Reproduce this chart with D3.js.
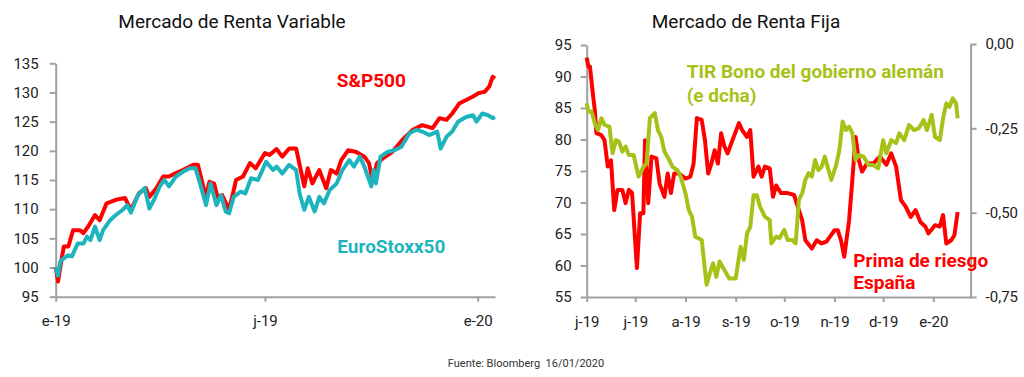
<!DOCTYPE html>
<html>
<head>
<meta charset="utf-8">
<script src="https://cdn.jsdelivr.net/npm/d3@7"></script>
<style>
  body { margin: 0; background: #fff; }
  svg text { font-family: Roboto, "Open Sans", sans-serif; }
</style>
</head>
<body>
<div id="chart-area"></div>
<script>
// Mercado de Renta Variable: indices rebased to 100 (e-19)
const sp500 = [
  ['2019-01-01',100],['2019-01-03',97.6],['2019-01-06',101.3],['2019-01-08',103.6],['2019-01-12',103.6],
  ['2019-01-16',106.4],['2019-01-22',106.4],['2019-01-25',105.9],['2019-01-29',107],['2019-02-04',109],
  ['2019-02-08',108.1],['2019-02-14',111],['2019-02-22',111.6],['2019-03-02',111.9],['2019-03-07',109.9],
  ['2019-03-14',112.7],['2019-03-20',113.6],['2019-03-23',112.1],['2019-03-29',113.6],['2019-04-04',115.6],
  ['2019-04-09',115.6],['2019-04-14',116.1],['2019-04-21',116.7],['2019-04-30',117.6],['2019-05-04',117.6],
  ['2019-05-08',114.4],['2019-05-11',112.1],['2019-05-14',114.7],['2019-05-18',114.4],['2019-05-21',112.1],
  ['2019-05-25',112.4],['2019-05-31',109.9],['2019-06-03',112.4],['2019-06-06',115],['2019-06-12',115.6],
  ['2019-06-18',117.9],['2019-06-23',117],['2019-07-01',119.6],['2019-07-05',119.3],['2019-07-11',120.3],
  ['2019-07-16',119],['2019-07-22',120.4],['2019-07-28',120.4],['2019-08-01',116.7],['2019-08-04',113.9],
  ['2019-08-07',117],['2019-08-11',114.4],['2019-08-17',116.7],['2019-08-23',113.6],['2019-08-27',116.7],
  ['2019-09-01',116.1],['2019-09-05',118.4],['2019-09-11',120.1],['2019-09-18',119.8],['2019-09-25',119],
  ['2019-09-29',117.9],['2019-10-02',115],['2019-10-06',117.9],['2019-10-11',118.7],['2019-10-19',119.8],
  ['2019-10-28',121.9],['2019-11-06',123.6],['2019-11-14',124.4],['2019-11-23',123.9],['2019-11-29',125.6],
  ['2019-12-05',125.3],['2019-12-10',126.4],['2019-12-16',128.1],['2019-12-22',128.7],['2019-12-28',129.3],
  ['2020-01-02',129.9],['2020-01-07',130.1],['2020-01-11',131],['2020-01-14',132.7],['2020-01-16',132.4]
];

const euroStoxx50 = [
  ['2019-01-01',100],['2019-01-03',98.6],['2019-01-05',101],['2019-01-08',101.6],['2019-01-12',102.1],
  ['2019-01-15',101.9],['2019-01-20',104.1],['2019-01-25',104.1],['2019-01-28',105.3],['2019-01-31',104.7],
  ['2019-02-04',107],['2019-02-08',104.7],['2019-02-11',106.4],['2019-02-17',108.1],['2019-02-22',109],
  ['2019-02-28',109.9],['2019-03-04',110.7],['2019-03-07',109.4],['2019-03-13',112.4],['2019-03-19',113.6],
  ['2019-03-23',110.1],['2019-03-27',111.6],['2019-04-01',113.9],['2019-04-05',115],['2019-04-09',113.9],
  ['2019-04-15',115.6],['2019-04-21',116.4],['2019-04-27',117],['2019-05-02',117],['2019-05-07',113.6],
  ['2019-05-11',110.7],['2019-05-15',114.4],['2019-05-20',110.7],['2019-05-24',112.4],['2019-05-28',109.6],
  ['2019-05-31',109.3],['2019-06-04',112.1],['2019-06-10',113],['2019-06-14',112.7],['2019-06-19',115.3],
  ['2019-06-25',115],['2019-07-02',118.1],['2019-07-08',116.7],['2019-07-11',117.3],['2019-07-16',116.1],
  ['2019-07-22',117.6],['2019-07-28',116.7],['2019-07-31',112.7],['2019-08-04',109.9],['2019-08-08',112.1],
  ['2019-08-13',109.6],['2019-08-17',112.1],['2019-08-21',111],['2019-08-26',113.3],['2019-09-01',114.4],
  ['2019-09-06',116.7],['2019-09-12',118.4],['2019-09-16',117.3],['2019-09-21',119],['2019-09-25',117.3],
  ['2019-10-01',113.9],['2019-10-03',116.7],['2019-10-05',114.4],['2019-10-09',119],['2019-10-15',119.8],
  ['2019-10-21',120.1],['2019-10-27',120.7],['2019-11-03',123],['2019-11-09',123.6],['2019-11-14',123.3],
  ['2019-11-20',122.7],['2019-11-27',123.3],['2019-11-30',120.4],['2019-12-05',122.4],['2019-12-10',123.3],
  ['2019-12-15',125],['2019-12-22',125.8],['2019-12-28',126.1],['2019-12-31',125],['2020-01-05',126.4],
  ['2020-01-10',126.1],['2020-01-14',125.6],['2020-01-16',125.8]
];

// Mercado de Renta Fija
const primaRiesgo = [
  ['2019-06-01',93],['2019-06-02',91.6],['2019-06-03',91.6],['2019-06-05',86.8],['2019-06-06',84.7],
  ['2019-06-07',81],['2019-06-10',80.7],['2019-06-12',79.9],['2019-06-14',75.7],['2019-06-16',76.7],
  ['2019-06-18',68.8],['2019-06-20',72],['2019-06-23',72],['2019-06-25',69.9],['2019-06-27',72],
  ['2019-06-29',71.5],['2019-07-02',59.6],['2019-07-04',68.3],['2019-07-06',68.3],['2019-07-07',79.9],
  ['2019-07-09',69.9],['2019-07-11',77.3],['2019-07-14',77],['2019-07-16',73],['2019-07-19',70.9],
  ['2019-07-21',74.6],['2019-07-23',71.5],['2019-07-25',74.6],['2019-07-28',74.6],['2019-08-01',73.8],
  ['2019-08-04',74.1],['2019-08-06',76.2],['2019-08-08',83.4],['2019-08-11',83.1],['2019-08-13',79.9],
  ['2019-08-15',74.6],['2019-08-17',76.2],['2019-08-19',78.3],['2019-08-21',76.2],['2019-08-23',81],
  ['2019-08-25',78.9],['2019-08-27',77.8],['2019-08-30',79.9],['2019-09-03',82.6],['2019-09-05',81.5],
  ['2019-09-08',80.4],['2019-09-10',81.5],['2019-09-12',74.1],['2019-09-15',75.7],['2019-09-17',74.1],
  ['2019-09-19',75.7],['2019-09-22',75.4],['2019-09-24',70.9],['2019-09-26',72.7],['2019-09-29',71.5],
  ['2019-10-03',71.5],['2019-10-07',71.2],['2019-10-10',68.8],['2019-10-12',67.2],['2019-10-14',64],
  ['2019-10-18',62.7],['2019-10-21',64],['2019-10-24',63.5],['2019-10-27',63.8],['2019-11-01',65.6],
  ['2019-11-03',65.6],['2019-11-05',64],['2019-11-07',61.4],['2019-11-10',67.2],['2019-11-12',73.6],
  ['2019-11-14',80.4],['2019-11-16',76.7],['2019-11-18',74.9],['2019-11-21',76.2],['2019-11-25',76.2],
  ['2019-11-29',77.3],['2019-12-03',76],['2019-12-06',77.8],['2019-12-09',75.7],['2019-12-12',70.4],
  ['2019-12-15',69.3],['2019-12-18',67.7],['2019-12-21',68.8],['2019-12-24',66.9],['2019-12-27',66.2],
  ['2019-12-29',65.1],['2020-01-02',66.4],['2020-01-05',66.2],['2020-01-07',68],['2020-01-09',63.5],
  ['2020-01-12',64],['2020-01-14',64.8],['2020-01-16',68.5]
];

const tirBund = [
  ['2019-06-01',-0.176],['2019-06-02',-0.2],['2019-06-04',-0.2],['2019-06-06',-0.235],['2019-06-08',-0.255],
  ['2019-06-10',-0.22],['2019-06-12',-0.24],['2019-06-15',-0.245],['2019-06-17',-0.324],['2019-06-19',-0.285],
  ['2019-06-21',-0.29],['2019-06-23',-0.319],['2019-06-25',-0.304],['2019-06-27',-0.329],['2019-06-30',-0.329],
  ['2019-07-03',-0.393],['2019-07-06',-0.364],['2019-07-08',-0.354],['2019-07-10',-0.22],['2019-07-13',-0.205],
  ['2019-07-15',-0.255],['2019-07-17',-0.275],['2019-07-19',-0.319],['2019-07-22',-0.344],['2019-07-24',-0.364],
  ['2019-07-27',-0.374],['2019-07-29',-0.393],['2019-08-01',-0.443],['2019-08-03',-0.492],['2019-08-05',-0.512],
  ['2019-08-07',-0.571],['2019-08-11',-0.581],['2019-08-14',-0.714],['2019-08-16',-0.68],['2019-08-18',-0.65],
  ['2019-08-20',-0.69],['2019-08-22',-0.645],['2019-08-25',-0.67],['2019-08-28',-0.695],['2019-09-01',-0.695],
  ['2019-09-04',-0.601],['2019-09-06',-0.64],['2019-09-08',-0.561],['2019-09-10',-0.542],['2019-09-12',-0.448],
  ['2019-09-14',-0.448],['2019-09-16',-0.482],['2019-09-19',-0.512],['2019-09-22',-0.522],['2019-09-23',-0.591],
  ['2019-09-26',-0.571],['2019-09-28',-0.576],['2019-10-01',-0.551],['2019-10-03',-0.581],['2019-10-06',-0.581],
  ['2019-10-08',-0.591],['2019-10-10',-0.462],['2019-10-12',-0.443],['2019-10-14',-0.403],['2019-10-16',-0.383],
  ['2019-10-18',-0.393],['2019-10-20',-0.344],['2019-10-22',-0.374],['2019-10-24',-0.364],['2019-10-26',-0.334],
  ['2019-10-28',-0.369],['2019-10-30',-0.403],['2019-11-02',-0.359],['2019-11-04',-0.314],['2019-11-06',-0.23],
  ['2019-11-08',-0.255],['2019-11-10',-0.245],['2019-11-12',-0.265],['2019-11-14',-0.344],['2019-11-16',-0.329],
  ['2019-11-19',-0.334],['2019-11-22',-0.359],['2019-11-25',-0.359],['2019-11-28',-0.369],['2019-12-01',-0.285],
  ['2019-12-03',-0.324],['2019-12-06',-0.285],['2019-12-09',-0.294],['2019-12-11',-0.265],['2019-12-14',-0.285],
  ['2019-12-17',-0.24],['2019-12-20',-0.255],['2019-12-23',-0.25],['2019-12-26',-0.225],['2019-12-28',-0.255],
  ['2019-12-31',-0.21],['2020-01-02',-0.275],['2020-01-05',-0.285],['2020-01-07',-0.22],['2020-01-09',-0.176],
  ['2020-01-11',-0.186],['2020-01-13',-0.161],['2020-01-15',-0.176],['2020-01-16',-0.22]
];

const leftTickDates = ['2019-01-01', '2019-07-01', '2020-01-01'];
const leftTickLabels = ['e-19', 'j-19', 'e-20'];
const leftYTicks = [95, 100, 105, 110, 115, 120, 125, 130, 135];

const rightTickDates = ['2019-06-01', '2019-07-01', '2019-08-01', '2019-09-01', '2019-10-01', '2019-11-01', '2019-12-01', '2020-01-01'];
const rightTickLabels = ['j-19', 'j-19', 'a-19', 's-19', 'o-19', 'n-19', 'd-19', 'e-20'];
const primaTicks = [55, 60, 65, 70, 75, 80, 85, 90, 95];
const tirTicks = [-0.75, -0.5, -0.25, 0];

const RED = '#ff0000';
const TEAL = '#1eb4be';
const GREEN = '#a6c218';
const AXIS = '#a0a0a0';

const parse = d3.timeParse('%Y-%m-%d');

const svg = d3.select('#chart-area')
  .append('svg')
  .attr('width', 1024)
  .attr('height', 377);

function styleAxis(g) {
  g.select('.domain').attr('stroke', AXIS).attr('stroke-width', 2);
  g.selectAll('.tick line').attr('stroke', AXIS).attr('stroke-width', 2);
  g.selectAll('.tick text').attr('fill', '#222').style('font-size', '15px');
}

// ---------- left chart ----------
const xL = d3.scaleTime()
  .domain([parse('2019-01-01'), parse('2020-01-16')])
  .range([55.7, 495]);
const yL = d3.scaleLinear().domain([95, 135]).range([296.7, 63.3]);

svg.append('g')
  .attr('transform', 'translate(55.7,0)')
  .call(d3.axisLeft(yL).tickValues(leftYTicks).tickSize(6).tickSizeOuter(0).tickPadding(11))
  .call(styleAxis);

svg.append('g')
  .attr('transform', 'translate(0,296.7)')
  .call(d3.axisBottom(xL)
    .tickValues(leftTickDates.map(parse))
    .tickFormat((d, i) => leftTickLabels[i])
    .tickSize(5).tickSizeOuter(0).tickPadding(14))
  .call(styleAxis);

const lineL = d3.line()
  .x((d) => xL(parse(d[0])))
  .y((d) => yL(d[1]));

svg.append('path').datum(sp500)
  .attr('d', lineL).attr('fill', 'none')
  .attr('stroke', RED).attr('stroke-width', 4).attr('stroke-linejoin', 'round');
svg.append('path').datum(euroStoxx50)
  .attr('d', lineL).attr('fill', 'none')
  .attr('stroke', TEAL).attr('stroke-width', 4).attr('stroke-linejoin', 'round');

// ---------- right chart ----------
const xR = d3.scaleTime()
  .domain([parse('2019-06-01'), parse('2020-01-24')])
  .range([586.7, 970.6]);
const yPrima = d3.scaleLinear().domain([55, 95]).range([297, 45]);
const yTir = d3.scaleLinear().domain([-0.75, 0]).range([297, 44]);

svg.append('g')
  .attr('transform', 'translate(586.7,0)')
  .call(d3.axisLeft(yPrima).tickValues(primaTicks).tickSize(6).tickSizeOuter(0).tickPadding(9))
  .call(styleAxis);

svg.append('g')
  .attr('transform', 'translate(970.6,0)')
  .call(d3.axisRight(yTir).tickValues(tirTicks)
    .tickFormat((d) => d.toFixed(2).replace('.', ','))
    .tickSize(6).tickSizeOuter(0).tickPadding(9))
  .call(styleAxis);

svg.append('g')
  .attr('transform', 'translate(0,297)')
  .call(d3.axisBottom(xR)
    .tickValues(rightTickDates.map(parse))
    .tickFormat((d, i) => rightTickLabels[i])
    .tickSize(5).tickSizeOuter(0).tickPadding(14))
  .call(styleAxis);

svg.append('path').datum(primaRiesgo)
  .attr('d', d3.line().x((d) => xR(parse(d[0]))).y((d) => yPrima(d[1])))
  .attr('fill', 'none').attr('stroke', RED).attr('stroke-width', 4).attr('stroke-linejoin', 'round');
svg.append('path').datum(tirBund)
  .attr('d', d3.line().x((d) => xR(parse(d[0]))).y((d) => yTir(d[1])))
  .attr('fill', 'none').attr('stroke', GREEN).attr('stroke-width', 4).attr('stroke-linejoin', 'round');

// ---------- titles, labels, source ----------
svg.append('text').attr('x', 232).attr('y', 28).attr('text-anchor', 'middle')
  .style('font-size', '19px').attr('fill', '#111').text('Mercado de Renta Variable');
svg.append('text').attr('x', 746).attr('y', 28).attr('text-anchor', 'middle')
  .style('font-size', '19px').attr('fill', '#111').text('Mercado de Renta Fija');

const labels = [
  { t: 'S&P500', x: 336.7, y: 86.7, c: RED },
  { t: 'EuroStoxx50', x: 337.3, y: 252.7, c: TEAL },
  { t: 'TIR Bono del gobierno alemán', x: 686.7, y: 78.3, c: GREEN },
  { t: '(e dcha)', x: 686.7, y: 101.7, c: GREEN },
  { t: 'Prima de riesgo', x: 853.3, y: 266.7, c: RED },
  { t: 'España', x: 853.3, y: 289.3, c: RED }
];
svg.selectAll('text.lbl')
  .data(labels)
  .enter()
  .append('text')
  .attr('class', 'lbl')
  .attr('x', (d) => d.x)
  .attr('y', (d) => d.y)
  .attr('fill', (d) => d.c)
  .style('font-size', '19px')
  .style('font-weight', 'bold')
  .text((d) => d.t);

svg.append('text').attr('x', 526).attr('y', 366.7).attr('text-anchor', 'middle')
  .style('font-size', '11px').attr('fill', '#333').text('Fuente: Bloomberg  16/01/2020')
  .attr('xml:space', 'preserve').style('white-space', 'pre');
</script>
</body>
</html>
